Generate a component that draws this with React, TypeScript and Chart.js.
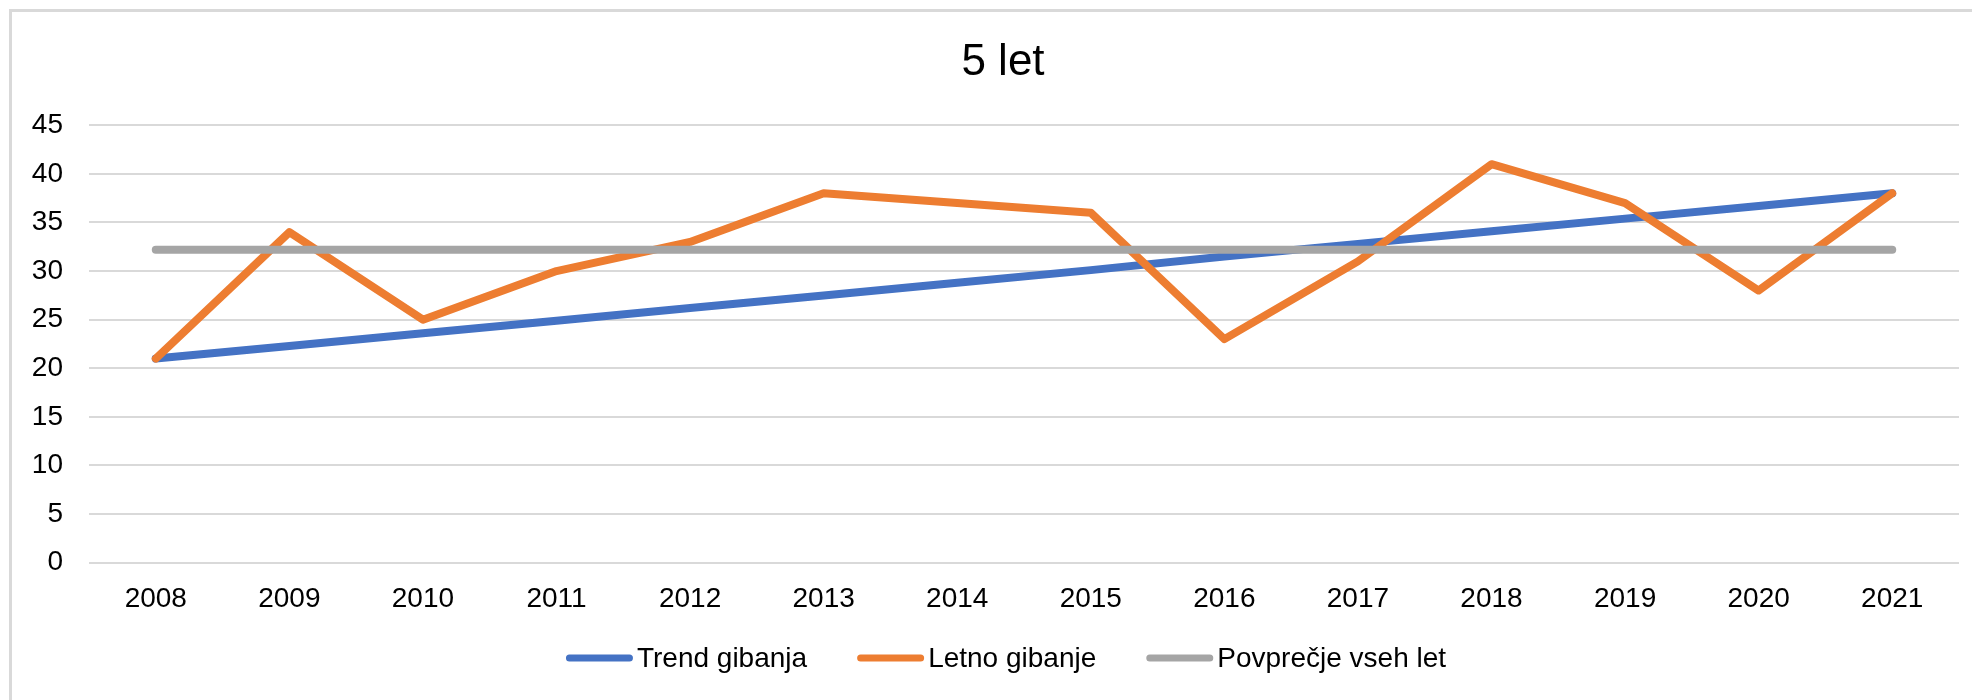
import React, { useEffect, useRef } from "react";
import { Chart, registerables } from "chart.js";

Chart.register(...registerables);

// ---- data ----
const chartTitle = "5 let";
const years = ["2008", "2009", "2010", "2011", "2012", "2013", "2014", "2015", "2016", "2017", "2018", "2019", "2020", "2021"];
const trendLabel = "Trend gibanja";
const annualLabel = "Letno gibanje";
const averageLabel = "Povprečje vseh let";
const trendValues = [21.0, 22.3, 23.6, 24.9, 26.2, 27.5, 28.8, 30.1, 31.5, 32.8, 34.1, 35.4, 36.7, 38.0];
const annualValues = [21, 34, 25, 30, 33, 38, 37, 36, 23, 31, 41, 37, 28, 38];
const averageValues = [32.2, 32.2, 32.2, 32.2, 32.2, 32.2, 32.2, 32.2, 32.2, 32.2, 32.2, 32.2, 32.2, 32.2];
const yMin = 0;
const yMax = 45;
const yStep = 5;

const FONT = "'Liberation Sans', Arial, sans-serif";

const lineLegend = {
  id: "lineLegend",
  afterDraw(chart: any) {
    const opts = chart.options.plugins.lineLegend;
    const ctx = chart.ctx;
    ctx.save();
    ctx.font = `${opts.fontSize}px ${FONT}`;
    const items = chart.data.datasets.map((ds: any) => ({
      label: ds.label,
      color: ds.borderColor,
      w: ctx.measureText(ds.label).width,
    }));
    const total =
      items.reduce((s: number, it: any) => s + opts.lineLen + opts.gap + it.w, 0) +
      opts.itemGap * (items.length - 1);
    let x = opts.centerX - total / 2;
    const y = opts.centerY;
    for (const it of items) {
      ctx.strokeStyle = it.color;
      ctx.lineWidth = opts.lineWidth;
      ctx.lineCap = "round";
      ctx.beginPath();
      ctx.moveTo(x + opts.lineWidth / 2, y);
      ctx.lineTo(x + opts.lineLen - opts.lineWidth / 2, y);
      ctx.stroke();
      ctx.fillStyle = "#000";
      ctx.textAlign = "left";
      ctx.textBaseline = "middle";
      ctx.fillText(it.label, x + opts.lineLen + opts.gap, y + 1);
      x += opts.lineLen + opts.gap + it.w + opts.itemGap;
    }
    ctx.restore();
  },
};

export default function App() {
  const ref = useRef<HTMLCanvasElement>(null);

  useEffect(() => {
    if (!ref.current) return;
    const lineCommon = {
      borderWidth: 8,
      pointRadius: 0,
      pointHoverRadius: 0,
      tension: 0,
      borderCapStyle: "round" as const,
      borderJoinStyle: "round" as const,
      fill: false,
    };
    const chart = new Chart(ref.current, {
      type: "line",
      data: {
        labels: years,
        datasets: [
          { ...lineCommon, label: trendLabel, data: trendValues, borderColor: "#4472C4", backgroundColor: "#4472C4", order: 3 },
          { ...lineCommon, label: annualLabel, data: annualValues, borderColor: "#ED7D31", backgroundColor: "#ED7D31", order: 2 },
          { ...lineCommon, label: averageLabel, data: averageValues, borderColor: "#A5A5A5", backgroundColor: "#A5A5A5", order: 1 },
        ],
      },
      plugins: [lineLegend],
      options: {
        responsive: false,
        devicePixelRatio: 1,
        animation: false,
        layout: { padding: { top: 0, left: 0, right: 0, bottom: 97.3 } },
        plugins: {
          legend: { display: false },
          tooltip: { enabled: false },
          title: {
            display: true,
            text: chartTitle,
            color: "#000",
            font: { family: FONT, size: 44, weight: "normal", lineHeight: 1.2 },
            padding: { top: 26.6, bottom: 35.9 },
          },
          lineLegend: { centerX: 996, centerY: 648, fontSize: 28, lineLen: 67, gap: 4, itemGap: 50, lineWidth: 7 },
        } as any,
        scales: {
          x: {
            type: "category",
            offset: true,
            grid: { display: false, drawTicks: false },
            border: { display: false },
            ticks: { color: "#000", font: { family: FONT, size: 28 }, padding: 20, maxRotation: 0, autoSkip: false },
            afterFit: (s: any) => {
              s.height = 50;
            },
          },
          y: {
            position: "left",
            min: yMin,
            max: yMax,
            grid: { color: "#d9d9d9", lineWidth: 2, drawTicks: false },
            border: { display: false },
            ticks: { stepSize: yStep, color: "#000", font: { family: FONT, size: 28 }, padding: 26 },
            afterFit: (s: any) => {
              s.width = 79;
            },
          },
          yRight: {
            position: "right",
            display: true,
            min: yMin,
            max: yMax,
            grid: { display: false, drawTicks: false },
            border: { display: false },
            ticks: { display: false },
            afterFit: (s: any) => {
              s.width = 37;
            },
          },
        },
      },
    });
    return () => chart.destroy();
  }, []);

  return (
    <div style={{ position: "fixed", left: 0, top: 0, width: 1972, height: 700, overflow: "hidden", background: "#fff" }}>
      <div
        style={{
          position: "absolute",
          left: 9,
          top: 9,
          width: 3000,
          height: 3000,
          borderLeft: "3px solid #d9d9d9",
          borderTop: "3px solid #d9d9d9",
        }}
      />
      <canvas
        ref={ref}
        width={1986}
        height={700}
        style={{ position: "absolute", left: 10, top: 10, width: 1986, height: 700 }}
      />
    </div>
  );
}
